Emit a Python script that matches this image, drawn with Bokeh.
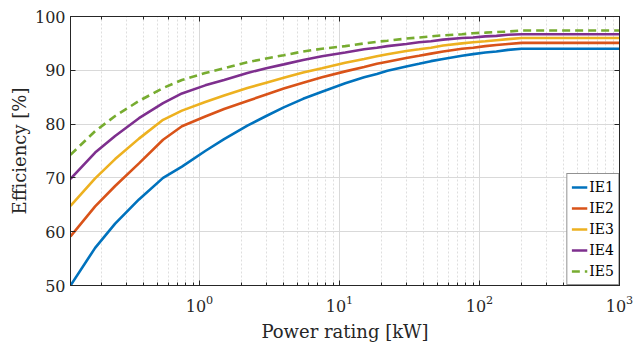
from bokeh.plotting import figure
from bokeh.models import LogAxis, LinearAxis, Legend, LegendItem, FixedTicker, Range1d, LogTicker
from bokeh.embed import file_html
from bokeh.resources import INLINE

power = [0.12, 0.18, 0.25, 0.37, 0.55, 0.75, 1.1, 1.5, 2.2, 3, 4, 5.5, 7.5, 11, 15, 18.5,
         22, 30, 37, 45, 55, 75, 90, 110, 132, 160, 200, 1000]
ie1 = [50.0, 57.0, 61.5, 66.0, 70.0, 72.1, 75.0, 77.2, 79.7, 81.5, 83.1, 84.7, 86.0, 87.6, 88.7, 89.3,
       89.9, 90.7, 91.2, 91.7, 92.1, 92.7, 93.0, 93.3, 93.5, 93.8, 94.0, 94.0]
ie2 = [59.1, 64.7, 68.5, 72.7, 77.1, 79.6, 81.4, 82.8, 84.3, 85.5, 86.6, 87.7, 88.7, 89.8, 90.6, 91.2,
       91.6, 92.3, 92.7, 93.1, 93.5, 94.0, 94.2, 94.5, 94.7, 94.9, 95.1, 95.1]
ie3 = [64.8, 69.9, 73.5, 77.3, 80.8, 82.5, 84.1, 85.3, 86.7, 87.7, 88.6, 89.6, 90.4, 91.4, 92.1, 92.6,
       93.0, 93.6, 93.9, 94.2, 94.6, 95.0, 95.2, 95.4, 95.6, 95.8, 96.0, 96.0]
ie4 = [69.8, 74.7, 77.8, 81.1, 83.9, 85.7, 87.2, 88.2, 89.5, 90.4, 91.1, 91.9, 92.6, 93.3, 93.9, 94.2,
       94.5, 94.9, 95.2, 95.4, 95.7, 96.0, 96.1, 96.3, 96.4, 96.6, 96.7, 96.7]
ie5 = [74.3, 78.7, 81.5, 84.3, 86.7, 88.2, 89.5, 90.4, 91.5, 92.2, 92.8, 93.5, 94.0, 94.5, 95.0, 95.3,
       95.5, 95.9, 96.1, 96.3, 96.5, 96.7, 96.9, 97.0, 97.1, 97.2, 97.4, 97.4]
names = ["IE1", "IE2", "IE3", "IE4", "IE5"]
colors = ["#0072BD", "#D95319", "#EDB120", "#7E2F8E", "#77AC30"]
y_ticks = [50, 60, 70, 80, 90, 100]
x_ticks = [1, 10, 100, 1000]
x_tick_labels = ["10\u2070", "10\u00b9", "10\u00b2", "10\u00b3"]

FONT = "DejaVu Serif"

p = figure(width=639, height=344, x_axis_type="log", output_backend="svg", toolbar_location=None,
           x_range=Range1d(0.12, 1000), y_range=Range1d(50, 100),
           min_border_left=70, min_border_right=20, min_border_top=16, min_border_bottom=57)
p.background_fill_color = "white"
p.border_fill_color = "white"
p.outline_line_color = "#262626"
p.outline_line_width = 1

series = [ie1, ie2, ie3, ie4, ie5]
renderers = []
for i, (s, c) in enumerate(zip(series, colors)):
    dash = "8 5" if i == 4 else "solid"
    r = p.line(power, s, line_color=c, line_width=2.6, line_dash=dash)
    renderers.append(r)

for ax in p.xaxis + p.yaxis:
    ax.axis_line_color = "#262626"
    ax.major_tick_line_color = "#262626"
    ax.minor_tick_line_color = "#262626"
    ax.major_tick_in = 5
    ax.major_tick_out = 0
    ax.minor_tick_in = 3
    ax.minor_tick_out = 0
    ax.major_label_text_font = FONT
    ax.major_label_text_font_size = "16px"
    ax.major_label_text_color = "#262626"
    ax.axis_label_text_font = FONT
    ax.axis_label_text_font_size = "18px"
    ax.axis_label_text_font_style = "normal"
    ax.axis_label_text_color = "#262626"

p.xaxis.axis_label = "Power rating [kW]"
p.yaxis.axis_label = "Efficiency [%]"
p.xaxis.major_label_overrides = {str(t): l for t, l in zip(x_ticks, x_tick_labels)}
p.xaxis.major_label_standoff = 9
p.xaxis.axis_label_standoff = 6
p.yaxis.ticker = FixedTicker(ticks=y_ticks)
p.yaxis.minor_tick_line_color = None
p.yaxis.major_label_standoff = 5
p.yaxis.axis_label_standoff = 2

top = LogAxis(ticker=LogTicker(), major_label_text_color=None, major_label_text_font_size="6px",
              major_tick_in=5, major_tick_out=0, minor_tick_in=3, minor_tick_out=0,
              axis_line_color="#262626", major_tick_line_color="#262626", minor_tick_line_color="#262626",
              major_label_standoff=0)
right = LinearAxis(ticker=FixedTicker(ticks=y_ticks), major_label_text_color=None, major_label_text_font_size="6px",
                   major_tick_in=5, major_tick_out=0, minor_tick_line_color=None,
                   axis_line_color="#262626", major_tick_line_color="#262626", major_label_standoff=0)
p.add_layout(top, "above")
p.add_layout(right, "right")

p.xgrid.grid_line_color = "#d9d9d9"
p.xgrid.grid_line_width = 1
p.xgrid.minor_grid_line_color = "#dedede"
p.xgrid.minor_grid_line_dash = "2 2"
p.ygrid.grid_line_color = "#d9d9d9"
p.ygrid.ticker = FixedTicker(ticks=y_ticks)

legend = Legend(items=[LegendItem(label=n, renderers=[r]) for n, r in zip(names, renderers)],
                location="bottom_right")
legend.label_text_font = FONT
legend.label_text_font_size = "14px"
legend.label_text_color = "#000000"
legend.border_line_color = "#262626"
legend.border_line_width = 1
legend.background_fill_alpha = 1
legend.glyph_width = 16
legend.glyph_height = 18
legend.label_standoff = 2
legend.label_height = 18
legend.spacing = 3
legend.padding = 4
legend.margin = 0
p.add_layout(legend)

open("out.html", "w").write(file_html(p, INLINE))
